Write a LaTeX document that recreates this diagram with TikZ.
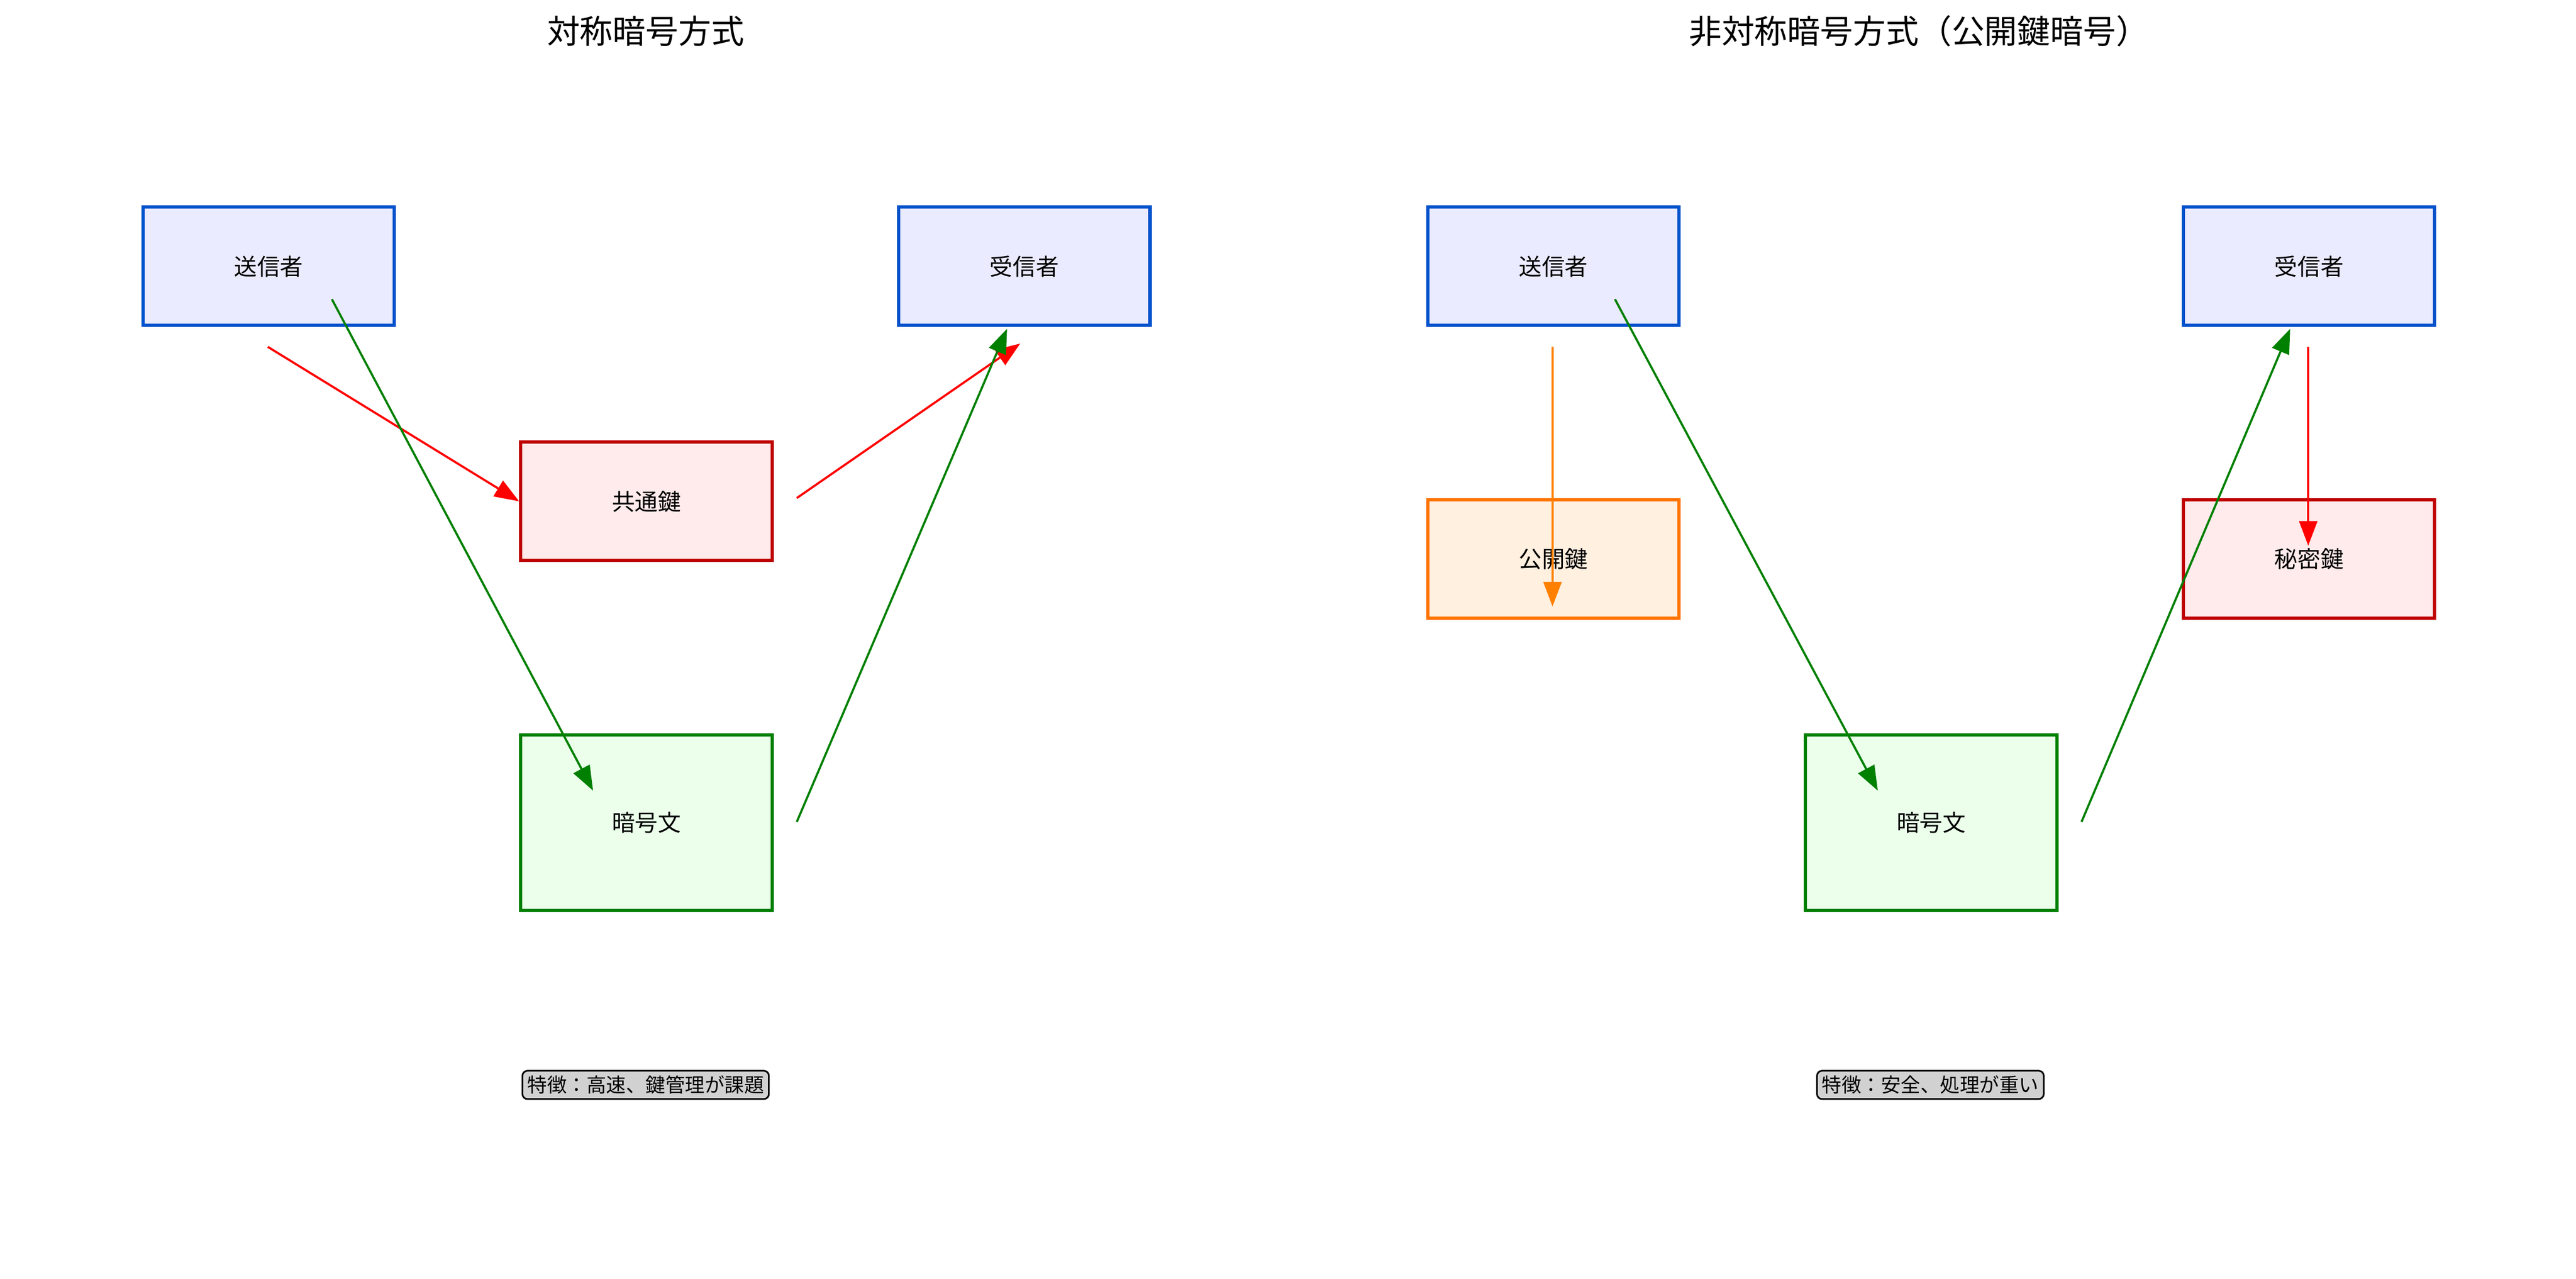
\documentclass[tikz,border=0pt]{standalone}
\usepackage{fontspec}
\setmainfont{Noto Sans CJK JP}
\usetikzlibrary{arrows.meta}
\begin{document}
\begin{tikzpicture}[x=1pt,y=-1pt,
 box/.style={draw,line width=2pt,minimum width=153pt,minimum height=72pt,font=\fontsize{14}{16}\selectfont,anchor=north west,inner sep=0},
 bluebox/.style={box,draw=blue!60!cyan!80!black,fill=blue!8!white},
 redbox/.style={box,draw=red!75!black,fill=red!8!white},
 greenbox/.style={box,draw=green!50!black,fill=green!8!white},
 orangebox/.style={box,draw=orange!90!red,fill=orange!12!white},
 arr/.style={line width=1.3pt,-{Triangle[length=15pt,width=11pt]}},
 note/.style={draw,rounded corners=3pt,fill=black!18,font=\fontsize{12}{14}\selectfont,inner sep=3pt,line width=1pt},
 ttl/.style={font=\fontsize{20}{24}\selectfont}]
\useasboundingbox (0,0) rectangle (1568,778);
\node[ttl] (t1) at (393,19) {対称暗号方式};
\node[ttl] (t2) at (1168,19) {非対称暗号方式（公開鍵暗号）};
% left
\node[bluebox] (s1) at (86,125) {送信者};
\node[bluebox] (r1) at (546,125) {受信者};
\node[redbox] (k1) at (316,268) {共通鍵};
\node[greenbox,minimum height=107pt] (c1) at (316,446) {暗号文};
\coordinate (a1) at (163,211); \coordinate (a2) at (316,305);
\coordinate (a3) at (485,303); \coordinate (a4) at (621,209);
\coordinate (a5) at (202,182); \coordinate (a6) at (361,481);
\coordinate (a7) at (485,500); \coordinate (a8) at (613,200);
\draw[arr,red] (a1) -- (a2);
\draw[arr,red] (a3) -- (a4);
\draw[arr,green!50!black] (a5) -- (a6);
\draw[arr,green!50!black] (a7) -- (a8);
\node[note] (n1) at (393,660) {特徴：高速、鍵管理が課題};
% right
\node[bluebox] (s2) at (868,125) {送信者};
\node[bluebox] (r2) at (1328,125) {受信者};
\node[orangebox] (p2) at (868,303) {公開鍵};
\node[redbox] (k2) at (1328,303) {秘密鍵};
\node[greenbox,minimum height=107pt] (c2) at (1098,446) {暗号文};
\coordinate (b1) at (945,211); \coordinate (b2) at (945,369);
\coordinate (b3) at (983,182); \coordinate (b4) at (1143,481);
\coordinate (b5) at (1267,500); \coordinate (b6) at (1394,200);
\coordinate (b7) at (1405,211); \coordinate (b8) at (1405,332);
\draw[arr,orange] (b1) -- (b2);
\draw[arr,green!50!black] (b3) -- (b4);
\draw[arr,green!50!black] (b5) -- (b6);
\draw[arr,red] (b7) -- (b8);
\node[note] (n2) at (1175,660) {特徴：安全、処理が重い};
\end{tikzpicture}
\end{document}
